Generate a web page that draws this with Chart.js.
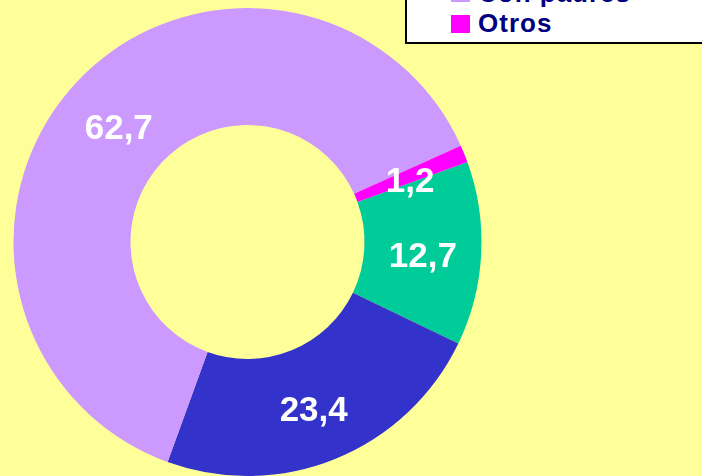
<!DOCTYPE html>
<html>
<head>
<meta charset="utf-8">
<script src="https://cdn.jsdelivr.net/npm/chart.js@4"></script>
<style>
  html, body { margin: 0; padding: 0; background: #FFFF99; overflow: hidden; }
  #wrap { position: relative; width: 702px; height: 476px; }
  #legend {
    position: absolute; left: 405px; top: -90px; width: 320px; height: 127px;
    background: #fff; border: 2px solid #000;
    display: flex; flex-direction: column; justify-content: flex-end;
    padding: 0 0 3px 44px; box-sizing: content-box;
    font-family: "Liberation Sans", Arial, sans-serif; font-weight: bold;
    font-size: 26px; letter-spacing: 1px; color: #000080;
  }
  #legend .row { height: 30.5px; display: flex; align-items: center; }
  #legend .sq { width: 19px; height: 18px; margin-right: 8px; }
</style>
</head>
<body>
<div id="wrap">
  <canvas id="myChart" width="702" height="476"></canvas>
  <div id="legend"></div>
</div>
<script>
/*---- data ----*/
var labels = ["Solos", "En pareja", "Con padres", "Otros"];
var values = [12.7, 23.4, 62.7, 1.2];
var colors = ["#00CC99", "#3333CC", "#CC99FF", "#FF00FF"];

/*---- legend box (cut off at top, like the original) ----*/
var legend = document.getElementById("legend");
for (var i = 0; i < labels.length; i++) {
  var row = document.createElement("div");
  row.className = "row";
  var sq = document.createElement("span");
  sq.className = "sq";
  sq.style.backgroundColor = colors[i];
  row.appendChild(sq);
  row.appendChild(document.createTextNode(labels[i]));
  legend.appendChild(row);
}

/*---- draws the value on each slice ----*/
var valueLabels = {
  id: "valueLabels",
  afterDatasetsDraw: function(chart) {
    var ctx = chart.ctx;
    var meta = chart.getDatasetMeta(0);
    ctx.save();
    ctx.fillStyle = "#fff";
    ctx.font = "bold 35px 'Liberation Sans', Arial, sans-serif";
    ctx.textAlign = "center";
    ctx.textBaseline = "middle";
    meta.data.forEach(function(arc, k) {
      var p = arc.tooltipPosition();
      ctx.fillText(values[k].toFixed(1).replace(".", ","), p.x, p.y + 7);
    });
    ctx.restore();
  }
};

var ctx = document.getElementById("myChart").getContext("2d");
var myChart = new Chart(ctx, {
  type: "doughnut",
  data: {
    labels: labels,
    datasets: [{
      data: values,
      backgroundColor: colors,
      borderWidth: 0
    }]
  },
  options: {
    responsive: false,
    animation: false,
    rotation: 70,
    cutout: "50%",
    layout: { padding: { left: 13, top: 8, right: 220, bottom: 0 } },
    plugins: {
      legend: { display: false },
      tooltip: { enabled: false }
    }
  },
  plugins: [valueLabels]
});
</script>
</body>
</html>
